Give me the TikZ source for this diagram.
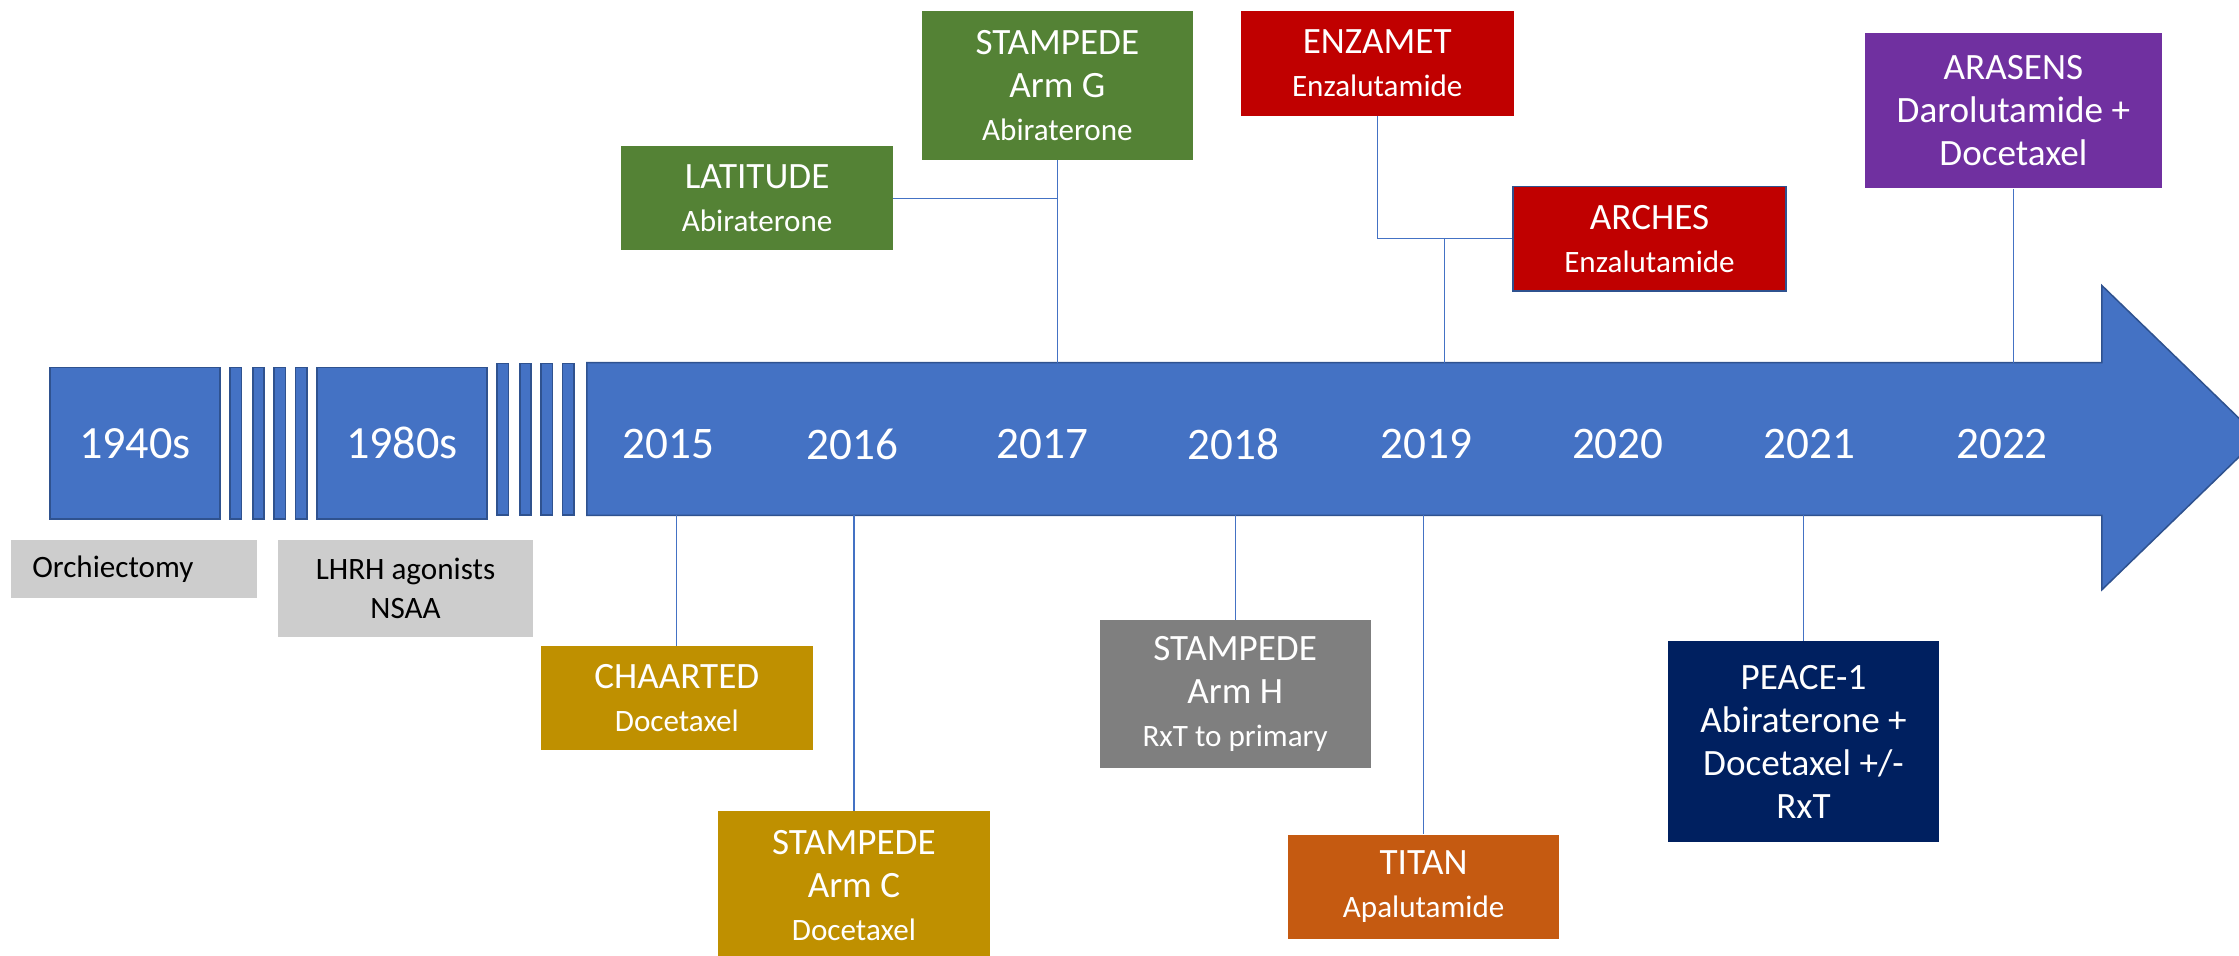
\documentclass[tikz,border=0pt]{standalone}
\usepackage{fontspec}
\setmainfont{Carlito}
\usetikzlibrary{positioning,calc}

\definecolor{axisblue}{RGB}{68, 114, 196}
\definecolor{edgeblue}{RGB}{47, 82, 143}
\definecolor{trgreen}{RGB}{84, 130, 53}
\definecolor{trred}{RGB}{192, 0, 0}
\definecolor{trpurple}{RGB}{112, 48, 160}
\definecolor{trgold}{RGB}{191, 144, 0}
\definecolor{trgrey}{RGB}{127, 127, 127}
\definecolor{trorange}{RGB}{197, 90, 17}
\definecolor{trnavy}{RGB}{0, 32, 96}
\definecolor{lgrey}{RGB}{205, 205, 205}

\tikzstyle{decade} = [rectangle, draw=edgeblue, line width=1.5pt, fill=axisblue,
  text=white, minimum width=59.5mm, minimum height=53mm, inner sep=0pt,
  font=\fontsize{46}{55}\selectfont]
\tikzstyle{gapbar} = [rectangle, draw=edgeblue, line width=1.5pt, fill=axisblue,
  minimum width=4mm, minimum height=53mm, inner sep=0pt]
\tikzstyle{year} = [text=white, inner sep=0pt, font=\fontsize{45}{54}\selectfont]
\tikzstyle{trial} = [rectangle, text=white, align=center, inner sep=0pt,
  minimum width=95mm, minimum height=36.5mm, font=\fontsize{37}{43}\selectfont]
\tikzstyle{pretrial} = [rectangle, fill=lgrey, text=black, inner sep=0pt,
  font=\fontsize{31}{39}\selectfont]
\tikzstyle{link} = [draw=axisblue, line width=1.2pt]

\newcommand{\drugname}[1]{{\fontsize{31}{43}\selectfont #1}}

\begin{document}
\begin{tikzpicture}[x=0.5mm, y=-0.5mm]

  \useasboundingbox (0,0) rectangle (1568,669);

  %%%%%%%%%%%%%%%%%%%%%%%%%%%%%%%%%%%%%%%%%%%%%%%%%%%%%%%%%%%%%%
  %                   TIME AXIS                                %
  %%%%%%%%%%%%%%%%%%%%%%%%%%%%%%%%%%%%%%%%%%%%%%%%%%%%%%%%%%%%%%

  \draw[draw=edgeblue, line width=1.5pt, fill=axisblue]
    (411,254) -- (1472,254) -- (1472,200) -- (1582,306.5)
    -- (1472,413) -- (1472,361) -- (411,361) -- cycle;
  \coordinate (axistop) at (411,254);
  \coordinate (axisbottom) at (411,361);

  \node [decade] at (94.5,310.5) (d1940) {1940s};
  \node [gapbar] at (165,310.5) (gap1) {};
  \node [gapbar] at (181,310.5) (gap2) {};
  \node [gapbar] at (196,310.5) (gap3) {};
  \node [gapbar] at (211,310.5) (gap4) {};
  \node [decade] at (281.5,310.5) (d1980) {1980s};
  \node [gapbar] at (352,307.5) (gap5) {};
  \node [gapbar] at (368,307.5) (gap6) {};
  \node [gapbar] at (383,307.5) (gap7) {};
  \node [gapbar] at (398,307.5) (gap8) {};

  \node [year] at (468,311) (y2015) {2015};
  \node [year] at (597,311) (y2016) {2016};
  \node [year] at (730,311) (y2017) {2017};
  \node [year] at (864,311) (y2018) {2018};
  \node [year] at (999,311) (y2019) {2019};
  \node [year] at (1133,311) (y2020) {2020};
  \node [year] at (1267,311) (y2021) {2021};
  \node [year] at (1402,311) (y2022) {2022};

  %%%%%%%%%%%%%%%%%%%%%%%%%%%%%%%%%%%%%%%%%%%%%%%%%%%%%%%%%%%%%%
  %                   EARLY TREATMENTS                         %
  %%%%%%%%%%%%%%%%%%%%%%%%%%%%%%%%%%%%%%%%%%%%%%%%%%%%%%%%%%%%%%

  \node [pretrial, align=left, text width=71.4mm, inner xsep=7.3mm,
    minimum height=20.5mm] at (94,398.5) (orchiectomy) {Orchiectomy};
  \node [pretrial, align=center, minimum width=89mm,
    minimum height=34mm] at (284,412) (lhrh) {LHRH agonists\\NSAA};

  %%%%%%%%%%%%%%%%%%%%%%%%%%%%%%%%%%%%%%%%%%%%%%%%%%%%%%%%%%%%%%
  %                   TRIALS ABOVE THE AXIS                    %
  %%%%%%%%%%%%%%%%%%%%%%%%%%%%%%%%%%%%%%%%%%%%%%%%%%%%%%%%%%%%%%

  \node [trial, fill=trgreen, minimum height=52mm] at (740.5,60) (armg) {
    STAMPEDE\\Arm G\\\drugname{Abiraterone}
  };
  \node [trial, fill=trgreen, below left = -5mm and 10mm of armg] (latitude) {
    LATITUDE\\\drugname{Abiraterone}
  };
  \draw[link] (armg.south) -- (armg.south |- axistop);
  \draw[link] (latitude.east) -- (latitude.east -| armg.south);

  \node [trial, fill=trred, minimum width=95.5mm] at (964.5,44.5) (enzamet) {
    ENZAMET\\\drugname{Enzalutamide}
  };
  \node [trial, fill=trred, draw=edgeblue, line width=1.5pt, minimum width=95.5mm,
    below right = 24.5mm and -0.5mm of enzamet] (arches) {
    ARCHES\\\drugname{Enzalutamide}
  };
  \draw[link] (enzamet.south) |- (arches.west);
  \coordinate (enzajoin) at ($(enzamet.south |- arches.west)!0.5!(arches.west)$);
  \draw[link] (enzajoin) -- (enzajoin |- axistop);

  \node [trial, fill=trpurple, minimum width=104mm, minimum height=54.5mm]
    at (1410,77.5) (arasens) {ARASENS\\Darolutamide +\\Docetaxel};
  \draw[link] (arasens.south) -- (arasens.south |- axistop);

  %%%%%%%%%%%%%%%%%%%%%%%%%%%%%%%%%%%%%%%%%%%%%%%%%%%%%%%%%%%%%%
  %                   TRIALS BELOW THE AXIS                    %
  %%%%%%%%%%%%%%%%%%%%%%%%%%%%%%%%%%%%%%%%%%%%%%%%%%%%%%%%%%%%%%

  \node [trial, fill=trgold] at (474,489) (chaarted) {
    CHAARTED\\\drugname{Docetaxel}
  };
  \draw[link] (chaarted.north |- axisbottom) -- (chaarted.north);

  \node [trial, fill=trgold, minimum height=52mm] at (598,620) (armc) {
    STAMPEDE\\Arm C\\\drugname{Docetaxel}
  };
  \draw[link] (armc.north |- axisbottom) -- (armc.north);

  \node [trial, fill=trgrey, minimum height=52mm] at (865,486) (armh) {
    STAMPEDE\\Arm H\\\drugname{RxT to primary}
  };
  \draw[link] (armh.north |- axisbottom) -- (armh.north);

  \node [trial, fill=trorange] at (997,621) (titan) {
    TITAN\\\drugname{Apalutamide}
  };
  \draw[link] (titan.north |- axisbottom) -- (titan.north);

  \node [trial, fill=trnavy, minimum height=70.5mm] at (1263,519.5) (peace) {
    PEACE-1\\Abiraterone +\\Docetaxel +/-\\RxT
  };
  \draw[link] (peace.north |- axisbottom) -- (peace.north);

\end{tikzpicture}
\end{document}
